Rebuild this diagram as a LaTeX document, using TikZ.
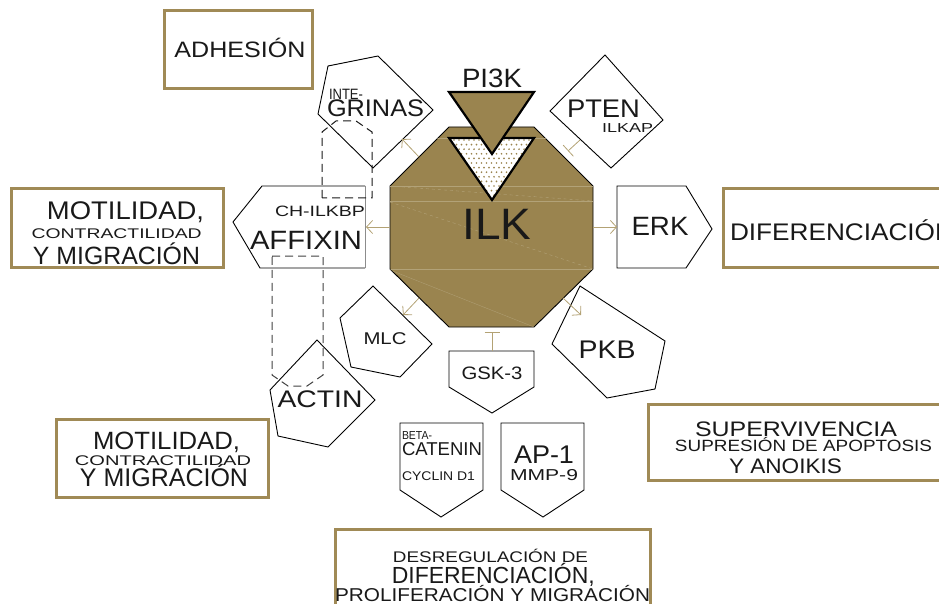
\documentclass[tikz,border=0pt]{standalone}
\usepackage{fontspec}
\setmainfont{Liberation Sans}
\usetikzlibrary{arrows.meta}
\definecolor{ilkgold}{HTML}{9A844F}
\definecolor{framegold}{HTML}{A08A56}
\definecolor{linktan}{HTML}{B3A274}
\definecolor{seam}{HTML}{B2A278}
% text set at a given size, stretched to a given width
\newcommand\fitt[3]{\resizebox{#2pt}{\height}{\fontsize{#1}{#1}\selectfont #3}}
\begin{document}
\begin{tikzpicture}[x=1pt,y=-1pt,
  frame/.style={draw=framegold,line width=3pt},
  mol/.style={draw=black,line width=0.9pt,line join=miter},
  lbl/.style={inner sep=0pt,outer sep=0pt,anchor=base,text=black!90},
  lblw/.style={lbl,anchor=base west},
  act/.style={draw=linktan,line width=0.8pt,-{Straight Barb[length=6pt,width=13pt]}},
  inh/.style={draw=linktan,line width=0.8pt,-{Bar[width=15pt]}},
  scaff/.style={line width=1pt,dash pattern=on 8pt off 5pt},
]
\useasboundingbox (0,0) rectangle (939,604);
\clip (0,0) rectangle (939,604);

% outcome frames
\draw[frame] (164.5,10.5) rectangle (312.5,88.5);
\draw[frame] (11.5,188.5) rectangle (223.5,267.5);
\draw[frame] (56.5,419.5) rectangle (268.5,497.5);
\draw[frame] (723.5,188.5) rectangle (950,267.5);
\draw[frame] (648.5,404.5) rectangle (950,480.5);
\draw[frame] (335.5,529.5) rectangle (650.5,615);

% ILK octagon with its faint seams
\draw[mol,fill=ilkgold] (449,127)--(534,127)--(593,186)--(593,269)--(534,327)--(449,327)--(390,269)--(390,186)--cycle;
\begin{scope}
  \clip (449,127)--(534,127)--(593,186)--(593,269)--(534,327)--(449,327)--(390,269)--(390,186)--cycle;
  \draw[seam,line width=0.4pt] (390,186)--(593,186);
  \draw[seam,line width=0.6pt] (390,201)--(593,201);
  \draw[seam,line width=0.3pt] (390,269)--(593,269);
  \draw[seam,line width=0.4pt,dashed] (390,186)--(593,201);
  \draw[seam,line width=0.4pt,dashed] (390,202)--(593,269);
  \draw[seam,line width=0.3pt] (390,270)--(534,327);
  \draw[seam,line width=0.3pt] (430,138)--(550,138);
\end{scope}

% dotted inverted triangle
\begin{scope}
  \fill[white] (449,138)--(534,138)--(492,200)--cycle;
  \clip (449,138)--(534,138)--(492,200)--cycle;
  \foreach \j in {0,...,13}{
    \foreach \i in {0,...,18}{
      \fill[ilkgold] ({449+\i*5+mod(\j,2)*2.5},{140+\j*4.6}) circle (0.95);
    }
  }
\end{scope}
\draw[black,line width=2.2pt,line join=miter] (449,138)--(534,138)--(492,200)--cycle;

% PI3K triangle
\draw[black,line width=2.2pt,line join=miter,fill=ilkgold] (449,92)--(534,92)--(492,154)--cycle;

% partner shapes
\draw[mol] (328,66)--(378,56)--(433,110)--(373,168)--(318,114)--cycle;          % integrinas
\draw[mol] (365,186)--(262,186)--(233,222)--(260,268)--(365,268);               % affixin
\draw[black!45,line width=0.9pt] (365,186)--(365,268);
\draw[mol] (317,340)--(375,400)--(328,447)--(278,436)--(270,390)--cycle;        % actin
\draw[mol] (373,286)--(432,344)--(400,377)--(351,367)--(340,318)--cycle;        % mlc
\draw[mol] (449,351)--(534,351)--(534,387)--(492,413)--(449,387)--cycle;        % gsk-3
\draw[mol] (580,286)--(665,341)--(655,389)--(607,398)--(552,344)--cycle;        % pkb
\draw[mol] (605,55)--(663,120)--(611,168)--(550,111)--cycle;                    % pten
\draw[mol] (617,186)--(686,186)--(712,229)--(686,268)--(617,268)--cycle;        % erk
\draw[mol] (400,423)--(483,423)--(483,490)--(441,517)--(400,490)--cycle;        % beta-catenin
\draw[mol] (501,423)--(584,423)--(584,490)--(543,517)--(501,490)--cycle;        % ap-1

% scaffold outlines
\draw[scaff,black!90] (322,198)--(322,132)--(336,121)--(356,121)--(372,132)--(372,198)--cycle;
\draw[scaff,black!75] (272,256)--(323,256)--(323,375)--(307,386)--(288,386)--(272,375)--cycle;

% connector ends
\coordinate (ilk-nw) at (419,157);   \coordinate (integ-in) at (402,139);
\coordinate (ilk-w) at (390,227);    \coordinate (affix-in) at (366,227);
\coordinate (ilk-e) at (593,227);    \coordinate (erk-in) at (617,227);
\coordinate (ilk-sw) at (419,298);   \coordinate (mlc-in) at (403,315);
\coordinate (ilk-se) at (563,298);   \coordinate (pkb-in) at (581,315);
\coordinate (pten-out) at (580,140); \coordinate (ilk-ne) at (568,151);
\coordinate (gsk-out) at (492,351);  \coordinate (ilk-s) at (492,332);

\draw[act] (ilk-nw) -- (integ-in);
\draw[act] (ilk-w) -- (affix-in);
\draw[act] (ilk-e) -- (erk-in);
\draw[act] (ilk-sw) -- (mlc-in);
\draw[act] (ilk-se) -- (pkb-in);
\draw[inh] (pten-out) -- (ilk-ne);
\draw[inh] (gsk-out) -- (ilk-s);

% labels
\node[lbl] (pi3k) at (492,88) {\fitt{26.5}{60}{PI3K}};
\node[lbl] (ilk) at (497,239) {\fitt{44}{69}{ILK}};
\node[lblw] (integ-a) at (329,100) {\fitt{15}{34}{INTE-}};
\node[lbl] (integ-b) at (375.5,117) {\fitt{24}{97}{GRINAS}};
\node[lbl] (affix-a) at (320,216.5) {\fitt{15}{90}{CH-ILKBP}};
\node[lbl] (affix-b) at (306,249) {\fitt{26.5}{112}{AFFIXIN}};
\node[lbl] (actin) at (320,407) {\fitt{24}{85}{ACTIN}};
\node[lbl] (mlc) at (385,344) {\fitt{17}{43}{MLC}};
\node[lbl] (gsk) at (492,379) {\fitt{18}{61}{GSK-3}};
\node[lbl] (pkb) at (607,358) {\fitt{25.5}{57}{PKB}};
\node[lbl] (pten-a) at (603.5,118) {\fitt{25.5}{73}{PTEN}};
\node[lbl] (pten-b) at (627.5,133) {\fitt{13}{51}{ILKAP}};
\node[lbl] (erk) at (660,235) {\fitt{26.5}{57}{ERK}};
\node[lblw] (dif) at (730,240.5) {\fitt{24}{224}{DIFERENCIACIÓN}};
\node[lbl] (adh) at (240,57.5) {\fitt{22.3}{131}{ADHESIÓN}};

\node[lbl] (mot1-a) at (125.5,220) {\fitt{25.5}{157}{MOTILIDAD,}};
\node[lbl] (mot1-b) at (116.7,238.5) {\fitt{14}{170}{CONTRACTILIDAD}};
\node[lbl] (mot1-c) at (116.5,264) {\fitt{25}{167}{Y MIGRACIÓN}};

\node[lbl] (mot2-a) at (166.5,449) {\fitt{25}{147}{MOTILIDAD,}};
\node[lbl] (mot2-b) at (163,465) {\fitt{14}{176}{CONTRACTILIDAD}};
\node[lbl] (mot2-c) at (164,486.5) {\fitt{25.5}{168}{Y MIGRACIÓN}};

\node[lbl] (sup-a) at (796,436.5) {\fitt{21}{202}{SUPERVIVENCIA}};
\node[lbl] (sup-b) at (803.5,451.5) {\fitt{16.3}{257}{SUPRESIÓN DE APOPTOSIS}};
\node[lbl] (sup-c) at (785.5,473) {\fitt{21}{113}{Y ANOIKIS}};

\node[lblw] (beta-a) at (402,439) {\fitt{11.6}{30}{BETA-}};
\node[lblw] (beta-b) at (402,455) {\fitt{18.6}{80}{CATENIN}};
\node[lblw] (beta-c) at (402,480) {\fitt{12.6}{73}{CYCLIN D1}};

\node[lbl] (ap1-a) at (544,463) {\fitt{25.6}{60}{AP-1}};
\node[lbl] (ap1-b) at (544,480.5) {\fitt{15.8}{68}{MMP-9}};

\node[lbl] (des-a) at (490.5,562.5) {\fitt{15.4}{195}{DESREGULACIÓN DE}};
\node[lbl] (des-b) at (493.3,583) {\fitt{23.3}{203}{DIFERENCIACIÓN,}};
\node[lbl] (des-c) at (492.5,601.5) {\fitt{18.6}{315}{PROLIFERACIÓN Y MIGRACIÓN}};
\end{tikzpicture}
\end{document}
